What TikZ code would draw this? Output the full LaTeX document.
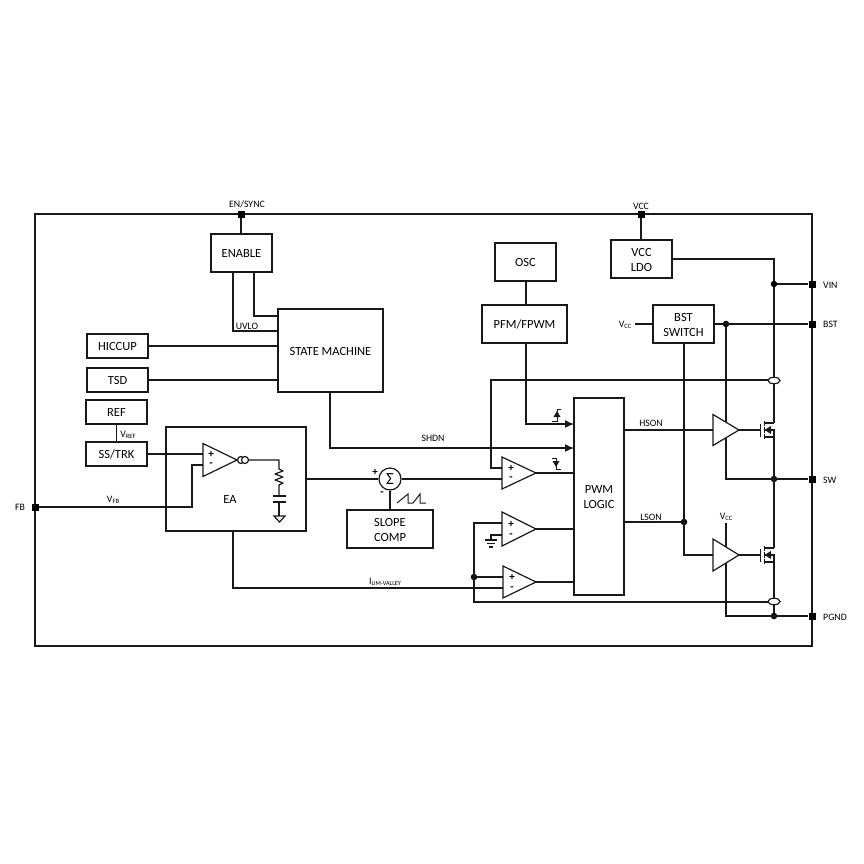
\documentclass[tikz,border=0pt]{standalone}
\usepackage{fontspec}
\setmainfont{Carlito}
\usetikzlibrary{arrows.meta,shapes.geometric}
\tikzset{
  x=1pt,y=-1pt,
  wire/.style={draw=black!90,line width=1.2pt},
  block/.style={draw=black!90,line width=1.2pt,fill=white,inner sep=0pt},
  blocktext/.style={inner sep=0pt,align=center,font=\fontsize{12.5}{15}\selectfont,yshift=-0.8pt},
  pin/.style={fill=black,inner sep=0pt,minimum size=7pt,draw=none},
  dot/.style={circle,fill=black,inner sep=0pt,minimum size=6.5pt,draw=none},
  lab/.style={inner sep=0pt,font=\fontsize{9.8}{11}\selectfont,yshift=-0.7pt},
  sgn/.style={inner sep=0pt,font=\fontsize{11}{12}\selectfont\bfseries},
  tri/.style={draw=black!90,line width=1.2pt,fill=white,line join=miter},
  arr/.style={wire,-{Latex[length=9pt,width=8pt]}},
  thin wire/.style={draw=black!90,line width=1pt},
}
% box by corners: name, x1, y1, x2, y2, text
\newcommand{\bx}[6]{\node[block,minimum width=#4pt-#2pt,minimum height=#5pt-#3pt] (#1) at ({(#2+#4)/2},{(#3+#5)/2}) {};
  \node[blocktext] (#1-txt) at (#1.center) {#6};}
% triangle coordinates: name, left, top, bottom, tip
\newcommand{\tcoord}[5]{%
  \coordinate (#1-a) at (#2,#3);
  \coordinate (#1-b) at (#2,#4);
  \coordinate (#1-t) at (#5,{(#3+#4)/2});}
\newcommand{\tdraw}[1]{\draw[tri] (#1-a) -- (#1-t) -- (#1-b) -- cycle;}
\newcommand{\ampsigns}[4]{%
  \node[sgn] at (#1+8,#2) {+};
  \node[sgn] at (#1+8,#3) {-};}
% mosfet: y of centre
\newcommand{\fet}[1]{%
  \draw[thin wire] (760,#1-6) -- (760,#1+7);
  \draw[thin wire] (764,#1-9) -- (764,#1-4);
  \draw[thin wire] (764,#1-3) -- (764,#1+3);
  \draw[thin wire] (764,#1+4) -- (764,#1+9);
  \draw[wire] (764,#1-7) -- (774,#1-7);
  \draw[wire] (764,#1+7) -- (774,#1+7);
  \draw[wire] (764,#1) -- (774,#1) -- (774,#1+7);
  \fill[black!90] (764.5,#1) -- (771,#1-4) -- (771,#1+4) -- cycle;}
\begin{document}
\begin{tikzpicture}
\useasboundingbox[fill=white] (0,0) rectangle (864,864);
% frame and pins
\node[draw=black!90,line width=1.2pt,inner sep=0pt,minimum width=777pt,minimum height=432pt] (frame) at (423.5,430) {};
\node[pin] (pEN) at (241,214) {};
\node[pin] (pVCC) at (641,214) {};
\node[pin] (pVIN) at (812,284) {};
\node[pin] (pBST) at (812,324) {};
\node[pin] (pSW) at (812,479) {};
\node[pin] (pPG) at (812,616) {};
\node[pin] (pFB) at (35,507) {};
\node[lab] at (247,204) {EN/SYNC};
\node[lab] at (641,206) {VCC};
\node[lab,anchor=west] at (823,285) {VIN};
\node[lab,anchor=west] at (823,324) {BST};
\node[lab,anchor=west] at (823,480) {SW};
\node[lab,anchor=west] at (823,617) {PGND};
\node[lab] at (20,507) {FB};
% blocks
\bx{enable}{211}{234}{272}{272}{ENABLE}
\bx{sm}{278}{309}{383}{392}{STATE MACHINE}
\bx{hiccup}{87}{334}{148}{358}{HICCUP}
\bx{tsd}{87}{368}{148}{392}{TSD}
\bx{ref}{86}{400}{147}{424}{REF}
\bx{ss}{86}{442}{147}{466}{SS/TRK}
\bx{ea}{166}{427}{306}{531}{}
\node[inner sep=0pt,font=\fontsize{12.5}{14}\selectfont] (eaT) at (230,499.5) {EA};
\bx{slope}{347}{510}{433}{548}{SLOPE\\COMP}
\bx{osc}{495}{243}{556}{281}{OSC}
\bx{pfm}{482}{305}{567}{343}{PFM/FPWM}
\bx{pwm}{574}{398}{624}{595}{PWM\\LOGIC}
\bx{ldo}{611}{240}{672}{278}{VCC\\LDO}
\bx{bsts}{653}{305}{714}{343}{BST\\SWITCH}
\node[draw=black!90,line width=1.2pt,circle,inner sep=0pt,minimum size=22pt,fill=white,font=\fontsize{17}{18}\selectfont] (sum) at (390,479) {Σ};
% triangle geometry
\tcoord{oE}{203}{443.5}{476.5}{237}
\tcoord{o1}{502}{457}{489}{536}
\tcoord{o2}{502}{512}{546}{536}
\tcoord{o3}{503}{566}{598}{536}
\tcoord{dH}{713}{414.5}{445.5}{739}
\tcoord{dL}{713}{539}{571}{739}
% junctions
\node[dot] (jVIN) at (774,284) {};
\node[dot] (jBST) at (726,324) {};
\node[dot] (jSW) at (774,479) {};
\node[dot] (jPG) at (774,616) {};
\node[dot] (jL) at (684,522) {};
\node[dot] (jI) at (474,577) {};
\coordinate (gate1) at (760,430);
\coordinate (gate2) at (760,555);
% wires
\draw[wire] (pEN) -- (pEN |- enable.north);
\draw[wire] (233,272) |- (278,331);
\draw[wire] (254,272) |- (278,316);
\draw[wire] (hiccup.east) -- (hiccup.east -| sm.west);
\draw[wire] (tsd.east) -- (tsd.east -| sm.west);
\draw[wire] (ref) -- (ss);
\draw[wire] (ss.east) -- (203,454);
\draw[wire] (pFB) -| (192,465) -- (203,465);
\draw[wire] (ea.east) -- (sum);
\draw[wire] (sum) -- (502,479);
\draw[wire] (sum) -- (slope.north -| sum);
% EA output network
\draw[wire,line join=round] (oE-t) -- (279,460) -- (279,469) -- (283,471) -- (275,474) -- (283,477) -- (275,480) -- (283,483) -- (279,485) -- (279,496);
\draw[wire] (273,496) -- (286,496);
\draw[wire] (273,502) -- (286,502);
\draw[wire] (279,502) -- (279,516);
\draw[wire,line join=miter] (274,516) -- (285,516) -- (279.5,522) -- cycle;
\node[draw=black!90,line width=1.2pt,fill=white,circle,inner sep=0pt,minimum size=7pt] (gm1) at (241,460) {};
\node[draw=black!90,line width=1.2pt,fill=white,circle,inner sep=0pt,minimum size=7pt] (gm2) at (245,460) {};
% bottom EA line
\draw[wire] (233,531) |- (503,588);
% comparators' connections
\draw[arr] (330,392) |- (574,448);
\draw[arr] (pfm.south -| 526,0) |- (574,424);
\draw[wire] (o1-t) -- (o1-t -| pwm.west);
\draw[wire] (o2-t) -- (o2-t -| pwm.west);
\draw[wire] (o3-t) -- (o3-t -| pwm.west);
\draw[wire] (774,380) -- (491,380) -- (491,468) -- (502,468);
\draw[wire] (502,523) -- (474,523) -- (474,602) -- (774,602);
\draw[wire] (jI) -- (503,577);
\draw[wire] (502,535) -- (491,535) -- (491,540);
\draw[wire] (485,540) -- (497,540);
\draw[wire] (487,543.5) -- (495,543.5);
\draw[wire] (489,547) -- (493,547);
% top sections
\draw[wire] (osc.south -| 526,0) -- (pfm.north -| 526,0);
\draw[wire] (pVCC) -- (pVCC |- ldo.north);
\draw[wire] (672,259) -| (jVIN);
\draw[wire] (jVIN) -- (pVIN);
\draw[wire] (bsts.east |- pBST) -- (pBST);
\draw[wire] (635,324) -- (653,324);
\draw[wire] (684,343) -- (684,555) -- (713,555);
\draw[wire] (pwm.east |- jL) -- (jL);
\draw[wire] (624,430) -- (713,430);
\draw[wire] (jBST) -- (726,479) -- (pSW);
\draw[wire] (726,523) -- (726,616) -- (pPG);
\draw[wire] (jVIN) -- (774,423);
\draw[wire] (774,437) -- (774,548);
\draw[wire] (774,562) -- (jPG);
\draw[wire] (dH-t) -- (gate1);
\draw[wire] (dL-t) -- (gate2);
% sense ellipses
\node[draw=black!90,line width=1.2pt,fill=white,ellipse,inner sep=0pt,minimum width=12pt,minimum height=6.5pt] (eH) at (774,380.5) {};
\node[draw=black!90,line width=1.2pt,fill=white,ellipse,inner sep=0pt,minimum width=12pt,minimum height=6.5pt] (eL) at (774,601.5) {};
% triangles on top
\tdraw{oE}\tdraw{o1}\tdraw{o2}\tdraw{o3}\tdraw{dH}\tdraw{dL}
\ampsigns{203}{454}{465}{}
\ampsigns{503}{468}{479}{}
\ampsigns{503}{524}{536}{}
\ampsigns{504}{577}{589}{}
\fet{430}
\fet{555}
% sum signs
\node[sgn] at (375,472) {+};
\node[sgn] at (382,494) {-};
% sawtooth
\draw[thin wire] (397,503) -- (408,494) -- (408,503) -- (413,503) -- (420,494) -- (420,503) -- (426,503);
% edge symbols
\draw[thin wire] (552,421) -- (557,421) -- (557,409.5) -- (561,409.5);
\fill[black!90] (557,411) -- (553.5,417) -- (560.5,417) -- cycle;
\draw[thin wire] (552,458) -- (556,458) -- (556,469) -- (561,469);
\fill[black!90] (556,467) -- (552.5,461) -- (559.5,461) -- cycle;
% labels
\node[lab] at (247,326) {UVLO};
\node[lab] at (433,438) {SHDN};
\node[lab] at (651,423) {HSON};
\node[lab] at (651,517) {LSON};
\node[lab] at (113,499.5) {V\raisebox{-1pt}{\fontsize{6.5}{7}\selectfont FB}};
\node[lab] at (128,434.5) {V\raisebox{-1pt}{\fontsize{6.5}{7}\selectfont REF}};
\node[lab] at (385,581) {I\raisebox{-1pt}{\fontsize{6.2}{7}\selectfont LIM-VALLEY}};
\node[lab] at (625,324) {V\raisebox{-1pt}{\fontsize{6.5}{7}\selectfont CC}};
\node[lab] at (726,516) {V\raisebox{-1pt}{\fontsize{6.5}{7}\selectfont CC}};
\end{tikzpicture}
\end{document}
